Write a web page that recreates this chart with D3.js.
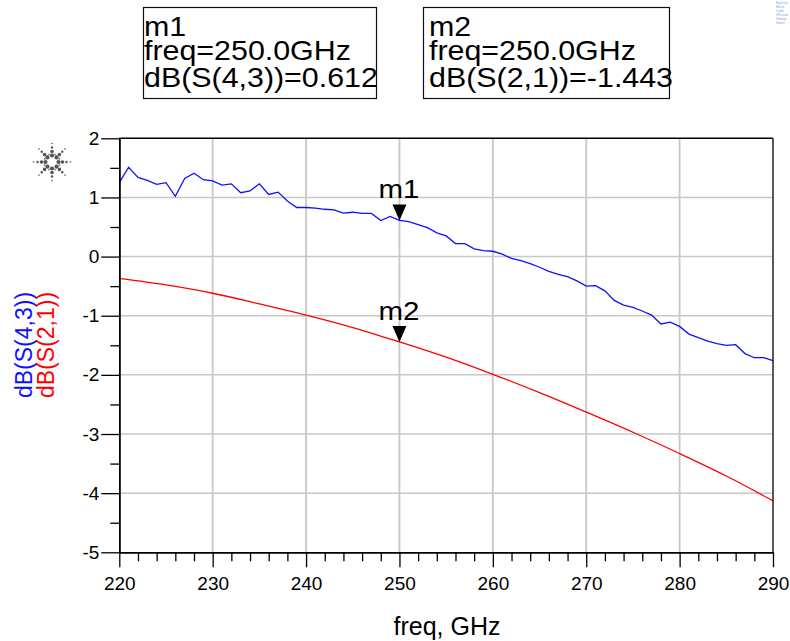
<!DOCTYPE html>
<html>
<head>
<meta charset="utf-8">
<script src="https://cdn.jsdelivr.net/npm/d3@7"></script>
<style>
  body { margin: 0; background: #fff; }
  svg { display: block; font-family: "Liberation Sans", Arial, sans-serif; }
</style>
</head>
<body>
<div id="chart"></div>
<script>
// S-parameter sweep, values
var freqs = [220, 221, 222, 223, 224, 225, 226, 227, 228, 229,
             230, 231, 232, 233, 234, 235, 236, 237, 238, 239,
             240, 241, 242, 243, 244, 245, 246, 247, 248, 249,
             250, 251, 252, 253, 254, 255, 256, 257, 258, 259,
             260, 261, 262, 263, 264, 265, 266, 267, 268, 269,
             270, 271, 272, 273, 274, 275, 276, 277, 278, 279,
             280, 281, 282, 283, 284, 285, 286, 287, 288, 289, 290];

var s43 = [1.25, 1.51, 1.34, 1.29, 1.22, 1.25, 1.02, 1.32, 1.41, 1.30,
           1.28, 1.21, 1.23, 1.08, 1.11, 1.23, 1.05, 1.09, 0.94, 0.83,
           0.83, 0.82, 0.80, 0.79, 0.735, 0.75, 0.73, 0.73, 0.61, 0.68,
           0.612, 0.59, 0.54, 0.49, 0.40, 0.35, 0.22, 0.22, 0.13, 0.10,
           0.09, 0.04, -0.03, -0.07, -0.12, -0.18, -0.25, -0.30, -0.34, -0.41,
           -0.50, -0.49, -0.58, -0.74, -0.82, -0.86, -0.92, -0.99, -1.14, -1.11,
           -1.18, -1.31, -1.37, -1.43, -1.47, -1.50, -1.49, -1.64, -1.71, -1.71, -1.76];

var s21Freqs = [220, 225, 230, 235, 240, 245, 250, 255, 260, 265, 270, 275, 280, 285, 290];
var s21 = [-0.37, -0.48, -0.62, -0.80, -0.99, -1.20, -1.443, -1.70, -1.99, -2.30, -2.63, -2.97, -3.33, -3.71, -4.13];

var xTicks = [220, 230, 240, 250, 260, 270, 280, 290];
var xMinor = [222, 224, 226, 228, 232, 234, 236, 238, 242, 244, 246, 248,
              252, 254, 256, 258, 262, 264, 266, 268, 272, 274, 276, 278,
              282, 284, 286, 288];
var yTicks = [-5, -4, -3, -2, -1, 0, 1, 2];
var yMinor = [-4.5, -3.5, -2.5, -1.5, -0.5, 0.5, 1.5];

var markers = [
    {name: "m1", freq: 250.0, value: 0.612, trace: "dB(S(4,3))"},
    {name: "m2", freq: 250.0, value: -1.443, trace: "dB(S(2,1))"}
];

var width = 790, height = 641;

var svg = d3.select("#chart")
    .append("svg")
    .attr("width", width)
    .attr("height", height);

var x = d3.scaleLinear().domain([220, 290]).range([119.3, 773]);
var y = d3.scaleLinear().domain([-5, 2]).range([552.3, 138.3]);

// grid
var grid = svg.append("g").attr("class", "grid");
grid.selectAll("line.v")
    .data(xTicks.slice(1, -1))
    .enter().append("line")
    .attr("x1", function (d) { return x(d); })
    .attr("x2", function (d) { return x(d); })
    .attr("y1", y(2)).attr("y2", y(-5))
    .style("stroke", "#c8c8c8").style("stroke-width", 1.8);
grid.selectAll("line.h")
    .data(yTicks.slice(1, -1))
    .enter().append("line")
    .attr("x1", x(220)).attr("x2", x(290))
    .attr("y1", function (d) { return y(d); })
    .attr("y2", function (d) { return y(d); })
    .style("stroke", "#c8c8c8").style("stroke-width", 1.5);

// traces
var line43 = d3.line()
    .x(function (d, i) { return x(freqs[i]); })
    .y(function (d) { return y(d); });

var line21 = d3.line()
    .x(function (d, i) { return x(s21Freqs[i]); })
    .y(function (d) { return y(d); })
    .curve(d3.curveMonotoneX);

svg.append("path")
    .datum(s21)
    .attr("d", line21)
    .style("fill", "none")
    .style("stroke", "#ff0000")
    .style("stroke-width", 1.3);

svg.append("path")
    .datum(s43)
    .attr("d", line43)
    .style("fill", "none")
    .style("stroke", "#1010ff")
    .style("stroke-width", 1.3);

// frame top and right
svg.append("line")
    .attr("x1", x(220)).attr("x2", x(290))
    .attr("y1", y(2)).attr("y2", y(2))
    .style("stroke", "#000").style("stroke-width", 1.5);
svg.append("line")
    .attr("x1", x(290)).attr("x2", x(290))
    .attr("y1", y(2)).attr("y2", y(-5))
    .style("stroke", "#222").style("stroke-width", 1.5);

// axes
var yAxis = svg.append("g")
    .attr("transform", "translate(" + x(220) + ",0)")
    .call(d3.axisLeft(y).tickValues(yTicks).tickSize(18).tickSizeOuter(0).tickPadding(2)
        .tickFormat(d3.format("d")));
svg.append("g")
    .attr("transform", "translate(" + x(220) + ",0)")
    .call(d3.axisLeft(y).tickValues(yMinor).tickSize(9).tickSizeOuter(0).tickFormat(""));

var xAxis = svg.append("g")
    .attr("transform", "translate(0," + y(-5) + ")")
    .call(d3.axisBottom(x).tickValues(xTicks).tickSize(15).tickSizeOuter(0).tickPadding(9));
svg.append("g")
    .attr("transform", "translate(0," + y(-5) + ")")
    .call(d3.axisBottom(x).tickValues(xMinor).tickSize(9).tickSizeOuter(0).tickFormat(""));

svg.selectAll(".domain").style("stroke", "#000").style("stroke-width", 1.5);
svg.selectAll(".tick line").style("stroke", "#000").style("stroke-width", 1.3);
svg.selectAll(".tick text")
    .style("font-family", "'Liberation Sans', Arial, sans-serif")
    .style("font-size", "19px")
    .style("fill", "#000");
yAxis.selectAll(".tick text").text(function (d) { return d; });

// axis titles
svg.append("text")
    .attr("x", 447).attr("y", 635)
    .attr("text-anchor", "middle")
    .style("font-size", "25px")
    .text("freq, GHz");

svg.append("text")
    .attr("transform", "translate(31.5,345) rotate(-90)")
    .attr("text-anchor", "middle")
    .style("font-size", "23px")
    .style("fill", "#1010ff")
    .text("dB(S(4,3))");
svg.append("text")
    .attr("transform", "translate(54,345) rotate(-90)")
    .attr("text-anchor", "middle")
    .style("font-size", "23px")
    .style("fill", "#ff0000")
    .text("dB(S(2,1))");

// markers on traces
markers.forEach(function (m) {
    var px = x(m.freq), py = y(m.value);
    svg.append("path")
        .attr("d", "M" + (px - 7) + "," + (py - 16) + "L" + (px + 7) + "," + (py - 16) + "L" + px + "," + py + "Z")
        .style("fill", "#000");
    svg.append("text")
        .attr("x", px - 21).attr("y", py - 22)
        .attr("textLength", 41)
        .attr("lengthAdjust", "spacingAndGlyphs")
        .style("font-size", "26px")
        .text(m.name);
});

// marker readout boxes
var boxes = [
    {x: 143, w: 233, tx: 144},
    {x: 423, w: 246, tx: 429}
];
markers.forEach(function (m, i) {
    var b = boxes[i];
    svg.append("rect")
        .attr("x", b.x + 0.5).attr("y", 7.5)
        .attr("width", b.w).attr("height", 91)
        .style("fill", "#fff")
        .style("stroke", "#111")
        .style("stroke-width", 1.2);
    var lines = [m.name, "freq=" + m.freq.toFixed(1) + "GHz", m.trace + "=" + m.value.toFixed(3)];
    var base = [36, 60, 87];
    lines.forEach(function (t, j) {
        var txt = svg.append("text")
            .attr("x", b.tx).attr("y", base[j])
            .style("font-size", "28px")
            .text(t);
        var len = txt.node().getComputedTextLength();
        txt.attr("textLength", len * 1.085).attr("lengthAdjust", "spacingAndGlyphs");
    });
});

// logo
var logo = svg.append("g").attr("transform", "translate(52,162)");
for (var a = 0; a < 8; a++) {
    var ang = a * Math.PI / 4;
    [[6.5, 2.1], [10.5, 1.8], [14.5, 1.2], [18.5, 0.8]].forEach(function (p) {
        logo.append("circle")
            .attr("cx", Math.cos(ang) * p[0])
            .attr("cy", Math.sin(ang) * p[0])
            .attr("r", p[1])
            .style("fill", "#555");
    });
    var ang2 = ang + Math.PI / 8;
    logo.append("circle")
        .attr("cx", Math.cos(ang2) * 8)
        .attr("cy", Math.sin(ang2) * 8)
        .attr("r", 1.0)
        .style("fill", "#888");
}

// faint annotation text at top right
var notes = ["EqnOut", "Meas", "Calib", "SParam", "Sweep", "Simul"];
svg.selectAll("text.note")
    .data(notes)
    .enter().append("text")
    .attr("class", "note")
    .attr("x", 776)
    .attr("y", function (d, i) { return 4 + i * 4; })
    .style("font-size", "3.4px")
    .style("fill", "#8a9ae6")
    .text(function (d) { return d; });
</script>
</body>
</html>
